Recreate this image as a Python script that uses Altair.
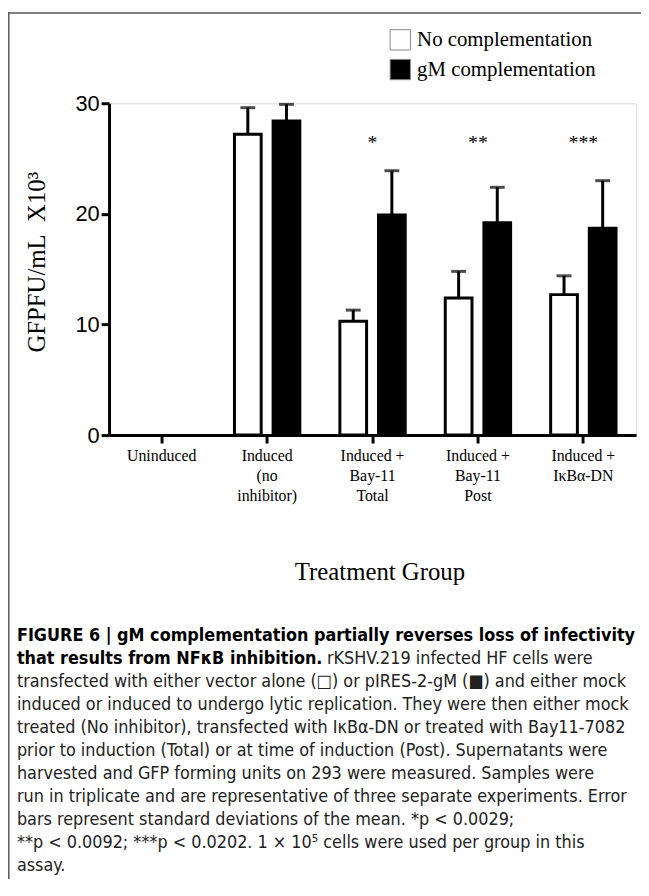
import altair as alt
import pandas as pd

# ---------------- data ----------------
categories = ["Uninduced", "Induced|(no|inhibitor)", "Induced +|Bay-11|Total",
              "Induced +|Bay-11|Post", "Induced +|IκBα-DN"]
series = ["No complementation", "gM complementation"]
no_comp = [0.0, 27.2, 10.3, 12.4, 12.7]
no_comp_sd = [0.0, 2.4, 1.0, 2.4, 1.7]
gm_comp = [0.0, 28.4, 19.9, 19.2, 18.7]
gm_comp_sd = [0.0, 1.5, 4.0, 3.2, 4.3]
stars = ["", "", "*", "**", "***"]
star_level = [25.85, 25.85, 25.85, 25.85, 25.85]
y_ticks = [0, 10, 20, 30]

caption_bold = ["FIGURE 6 | gM complementation partially reverses loss of infectivity",
                "that results from NFκB inhibition."]
caption_line2_rest = "rKSHV.219 infected HF cells were"
caption_rest = [
    "transfected with either vector alone (□) or pIRES-2-gM (■) and either mock",
    "induced or induced to undergo lytic replication. They were then either mock",
    "treated (No inhibitor), transfected with IκBα-DN or treated with Bay11-7082",
    "prior to induction (Total) or at time of induction (Post). Supernatants were",
    "harvested and GFP forming units on 293 were measured. Samples were",
    "run in triplicate and are representative of three separate experiments. Error",
    "bars represent standard deviations of the mean. *p < 0.0029;",
    "**p < 0.0092; ***p < 0.0202. 1 × 10⁵ cells were used per group in this",
    "assay.",
]

rows = []
for i, c in enumerate(categories):
    rows.append({"group": c, "series": series[0], "mean": no_comp[i],
                 "top": no_comp[i] + no_comp_sd[i], "sd": no_comp_sd[i]})
    rows.append({"group": c, "series": series[1], "mean": gm_comp[i],
                 "top": gm_comp[i] + gm_comp_sd[i], "sd": gm_comp_sd[i]})
df = pd.DataFrame(rows)
star_df = pd.DataFrame({"group": categories, "stars": stars, "level": star_level})

SERIF = "Liberation Serif"
SANS = "Liberation Sans"
CAP = "Liberation Sans Narrow, Arial Narrow, DejaVu Sans Condensed, sans-serif"

W, H = 532, 335
LINE = 23.2
CAP_Y0 = 543  # baseline of first caption line (plot coordinates)

x_enc = alt.X("group:N", sort=categories,
              scale=alt.Scale(domain=categories, paddingInner=0, paddingOuter=0),
              axis=alt.Axis(title="Treatment Group", labelExpr="split(datum.label, '|')",
                            labelAngle=0, labelFont=SERIF, labelFontSize=16,
                            labelLineHeight=20, labelPadding=5, labelColor="black",
                            labelOverlap=False, labelLimit=200,
                            domainColor="black", domainWidth=3,
                            tickColor="black", tickWidth=3, tickSize=8,
                            titleFont=SERIF, titleFontSize=25, titleFontWeight="normal",
                            titleColor="black", titleX=273, titleY=138,
                            titleBaseline="middle", titleAlign="center"))
xoff_enc = alt.XOffset("series:N", sort=series,
                       scale=alt.Scale(domain=series, paddingInner=0.308, paddingOuter=0.518))
y_enc = alt.Y("mean:Q", scale=alt.Scale(domain=[0, 30], nice=False),
              axis=alt.Axis(title="GFPFU/mL\u00a0\u00a0X10³", values=y_ticks, grid=False,
                            labelFont=SANS, labelFontSize=22, labelColor="black",
                            labelPadding=2,
                            domainColor="black", domainWidth=3,
                            tickColor="black", tickWidth=3, tickSize=8,
                            titleFont=SERIF, titleFontSize=25, titleFontWeight="normal",
                            titleColor="black", titleX=-73, titleY=160,
                            titleBaseline="middle", titleAlign="center", titleAngle=-90))

bars = alt.Chart(df).transform_filter(alt.datum.mean > 0).mark_bar(
    stroke="black", strokeWidth=3).encode(
    x=x_enc, xOffset=xoff_enc, y=y_enc,
    fill=alt.Fill("series:N", sort=series,
                  scale=alt.Scale(domain=series, range=["white", "black"]),
                  legend=alt.Legend(title=None, orient="none", legendX=283, legendY=-75,
                                    symbolType="square", symbolSize=420,
                                    symbolStrokeColor="#888", symbolStrokeWidth=1,
                                    labelFont=SERIF, labelFontSize=21, labelColor="black",
                                    labelOffset=6, rowPadding=4, padding=0,
                                    labelLimit=400)),
)

err_filter = alt.datum.sd > 0
stems = alt.Chart(df).transform_filter(err_filter).mark_rule(
    color="black", strokeWidth=3).encode(
    x=alt.X("group:N", sort=categories), xOffset=alt.XOffset("series:N", sort=series),
    y="mean:Q", y2="top:Q")
caps = alt.Chart(df).transform_filter(err_filter).mark_tick(
    color="black", thickness=3, size=15, orient="horizontal").encode(
    x=alt.X("group:N", sort=categories), xOffset=alt.XOffset("series:N", sort=series),
    y="top:Q")

star_text = alt.Chart(star_df).mark_text(font=SERIF, fontSize=20, color="black",
                                         baseline="alphabetic").encode(
    x=alt.X("group:N", sort=categories), y=alt.Y("level:Q"), text="stars:N")

one = pd.DataFrame({"k": [0]})
cap_bold = alt.Chart(one).mark_text(
    text=caption_bold, font=CAP, fontSize=18, fontWeight="bold", color="black",
    align="left", baseline="alphabetic", lineHeight=LINE).encode(
    x=alt.value(-93), y=alt.value(CAP_Y0))
cap_l2 = alt.Chart(one).mark_text(
    text=caption_line2_rest, font=CAP, fontSize=18, color="#222",
    align="left", baseline="alphabetic").encode(
    x=alt.value(220), y=alt.value(CAP_Y0 + LINE))
cap_rest = alt.Chart(one).mark_text(
    text=caption_rest, font=CAP, fontSize=18, color="#222",
    align="left", baseline="alphabetic", lineHeight=LINE).encode(
    x=alt.value(-93), y=alt.value(CAP_Y0 + 2 * LINE))

frame_top = alt.Chart(one).mark_rule(color="#555", strokeWidth=1.5).encode(
    x=alt.value(-101), x2=alt.value(W + 5), y=alt.value(-91.2))
frame_left = alt.Chart(one).mark_rule(color="#555", strokeWidth=1.5).encode(
    x=alt.value(-101.2), y=alt.value(-92), y2=alt.value(H + 448))

chart = alt.layer(bars, stems, caps, star_text, cap_bold, cap_l2, cap_rest,
                  frame_top, frame_left).properties(
    width=W, height=H,
    autosize=alt.AutoSizeParams(type="none"),
    padding={"left": 102, "top": 92, "right": 5, "bottom": 448},
).configure_view(stroke=None).configure(background="white")

chart.save("out.html", embed_options={"renderer": "svg", "actions": False})
